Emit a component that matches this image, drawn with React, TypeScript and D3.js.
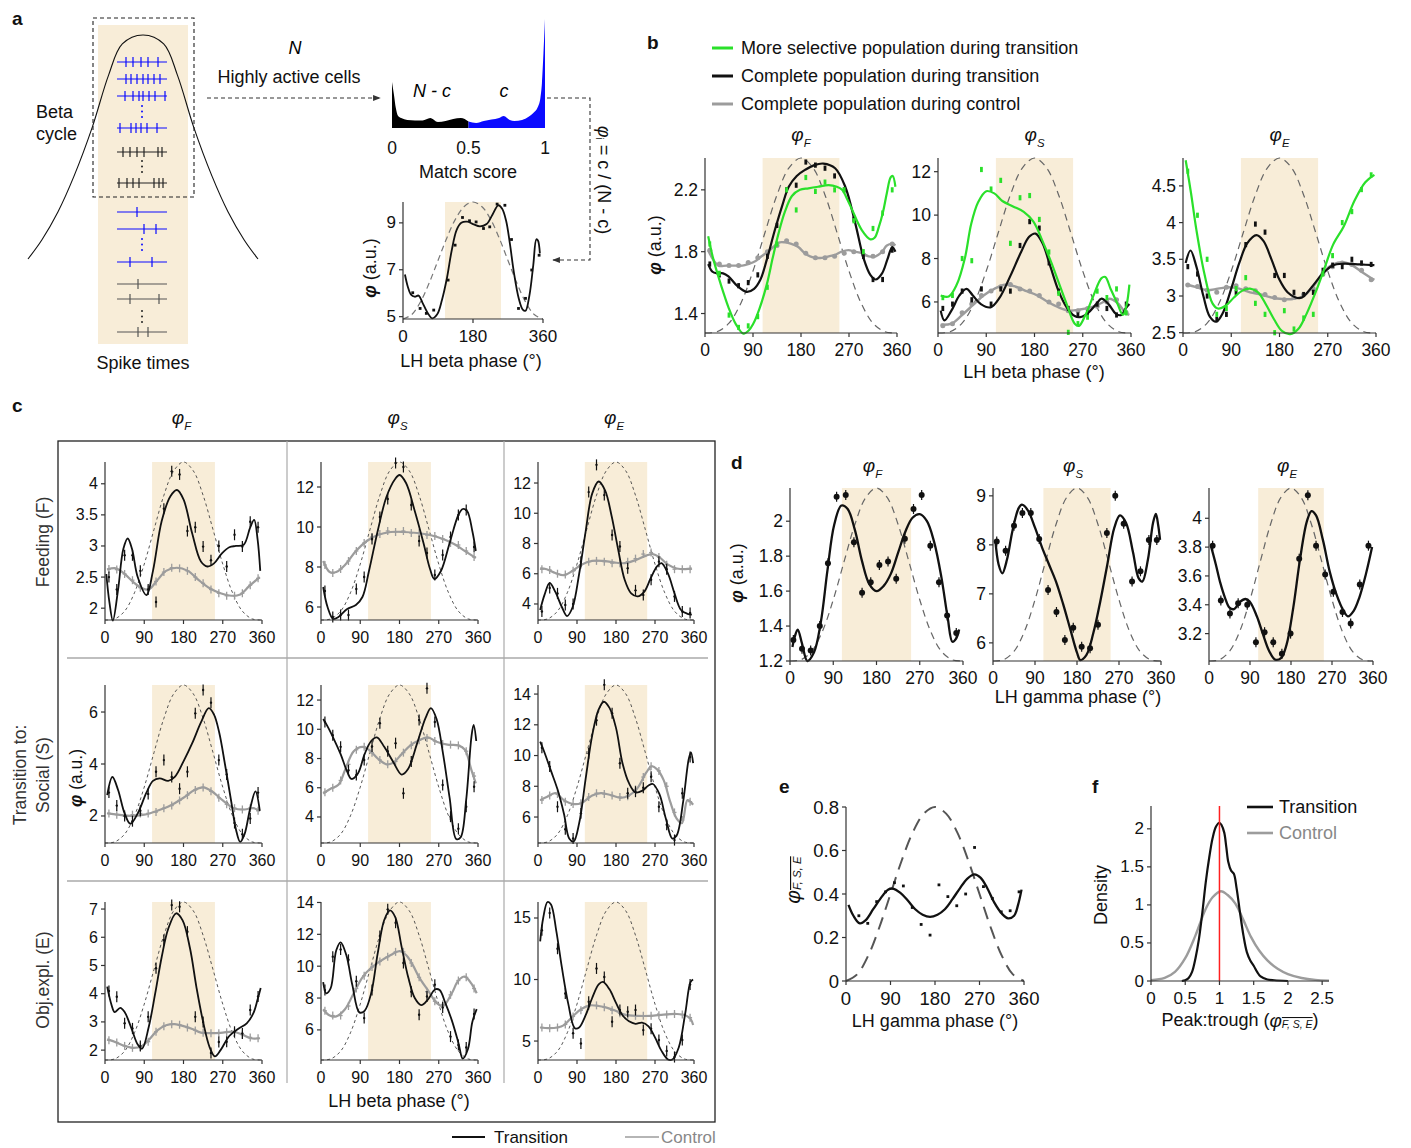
import React from "react";
import * as d3 from "d3";

type P = [number, number];
type Lin = d3.ScaleLinear<number, number>;

const FONT = "'Liberation Sans', Arial, Helvetica, sans-serif";
const BEIGE = "#f8edd8";
const GREEN = "#2ae02a";
const GRAY = "#9c9c9c";
const BLUE = "#0a0aff";
const AXIS = "#333";

// phase bins (deg) of the scatter points in b and c
const BINS = [9, 27, 45, 63, 81, 99, 117, 135, 153, 171, 189, 207, 225, 243, 261, 279, 297, 315, 333, 351];
const BEIGE_SPAN: P = [108, 252];
const PHASE_TICKS = [0, 90, 180, 270, 360];
// reference beta / gamma cycle (dashed): plain and sharpened versions
const REF_PHASE = [0, 22.5, 45, 67.5, 90, 112.5, 135, 157.5, 180, 202.5, 225, 247.5, 270, 292.5, 315, 337.5, 360];
const REF_WAVE = [0, 0.038, 0.146, 0.309, 0.5, 0.691, 0.854, 0.962, 1, 0.962, 0.854, 0.691, 0.5, 0.309, 0.146, 0.038, 0];
const REF_WAVE_NARROW = [0, 0.007, 0.056, 0.172, 0.354, 0.574, 0.789, 0.944, 1, 0.944, 0.789, 0.574, 0.354, 0.172, 0.056, 0.007, 0];

// ---- panel a ----
const BELL_T = [0, 0.06, 0.13, 0.2, 0.28, 0.35, 0.41, 0.5, 0.59, 0.65, 0.72, 0.8, 0.87, 0.94, 1];
const BELL_H = [0, 0.085, 0.21, 0.37, 0.59, 0.82, 0.96, 1, 0.96, 0.82, 0.59, 0.37, 0.21, 0.085, 0];
const SPIKES_IN_BLUE = [[9, 16, 24, 31, 41], [9, 14, 20, 26, 31, 37, 43], [8, 16, 22, 26, 32, 38, 48], [3, 14, 19, 24, 30, 40]];
const SPIKES_IN_BLACK = [[6, 13, 20, 27, 41, 45], [2, 10, 16, 22, 37, 42, 46]];
const SPIKES_OUT_BLUE = [[20], [27, 39], [13, 35]];
const SPIKES_OUT_BLACK = [[21], [13, 42], [21, 31]];
const MATCH_X = [0, 0.012, 0.025, 0.04, 0.06, 0.1, 0.15, 0.2, 0.25, 0.3, 0.35, 0.4, 0.45, 0.5, 0.55, 0.6, 0.65, 0.7, 0.73, 0.77, 0.8, 0.85, 0.9, 0.93, 0.95, 0.97, 0.98, 0.99, 1];
const MATCH_Y = [46, 34, 20, 12, 10, 8, 7.5, 7.5, 10, 6, 7, 9, 10, 6.5, 5, 7, 8.5, 10, 12, 8, 7, 8, 12, 16, 20, 30, 45, 75, 109];
const A_PHI: P[] = [[5, 6.8], [12, 6.3], [20, 5.95], [30, 5.85], [40, 5.9], [50, 5.6], [62, 5.2], [75, 4.93], [88, 5.1], [100, 5.7], [113, 6.65], [125, 7.8], [138, 8.7], [150, 9.0], [165, 9.05], [180, 8.95], [198, 8.85], [215, 8.95], [230, 9.35], [245, 9.75], [255, 9.6], [265, 9.1], [275, 8.1], [285, 6.9], [298, 5.75], [308, 5.3], [315, 5.25], [325, 5.9], [335, 7.2], [343, 8.3], [347, 8.25], [352, 7.7]];
const A_PHI_DOTS: P[] = [[25, 6.02], [44, 5.35], [60, 5.14], [79, 5.28], [116, 6.56], [134, 8.05], [153, 9.23], [171, 9.09], [188, 9.04], [207, 8.76], [223, 8.83], [242, 9.8], [262, 9.75], [279, 8.29], [297, 5.35], [315, 5.78], [331, 6.99], [350, 7.62]];

// ---- panel b ----
const B_F_SEL: P[] = [[6, 1.9], [15, 1.76], [25, 1.64], [35, 1.53], [44, 1.44], [58, 1.33], [72, 1.27], [82, 1.29], [90, 1.33], [102, 1.43], [116, 1.59], [127, 1.76], [138, 1.92], [150, 2.06], [163, 2.16], [178, 2.2], [194, 2.21], [212, 2.22], [232, 2.23], [247, 2.22], [257, 2.2], [268, 2.13], [276, 2.07], [294, 1.94], [310, 1.88], [318, 1.89], [326, 1.96], [334, 2.06], [341, 2.18], [348, 2.28], [352, 2.29], [357, 2.22]];
const B_F_ALL: P[] = [[6, 1.72], [14, 1.67], [22, 1.66], [34, 1.66], [44, 1.64], [60, 1.58], [78, 1.54], [92, 1.56], [104, 1.62], [116, 1.75], [131, 1.94], [145, 2.1], [157, 2.22], [172, 2.29], [188, 2.33], [205, 2.36], [222, 2.37], [244, 2.34], [263, 2.22], [282, 1.98], [298, 1.75], [310, 1.65], [320, 1.62], [332, 1.66], [342, 1.75], [351, 1.83], [357, 1.8]];
const B_F_CTRL: P[] = [[6, 1.81], [15, 1.75], [25, 1.71], [40, 1.71], [55, 1.71], [70, 1.71], [81, 1.72], [95, 1.74], [106, 1.77], [118, 1.8], [128, 1.83], [140, 1.86], [150, 1.86], [162, 1.85], [175, 1.83], [187, 1.79], [197, 1.77], [208, 1.76], [219, 1.76], [232, 1.77], [244, 1.78], [256, 1.8], [269, 1.81], [281, 1.8], [294, 1.79], [307, 1.77], [320, 1.77], [332, 1.8], [341, 1.84], [352, 1.85], [357, 1.84]];
const B_F_SEL_DOTS = [1.85, 1.66, 1.39, 1.31, 1.32, 1.38, 1.57, 1.85, 2.2, 2.07, 2.28, 2.19, 2.25, 2.2, 2.2, 2.0, 1.8, 1.95, 2.05, 2.2];
const B_F_ALL_DOTS = [1.72, 1.65, 1.61, 1.58, 1.6, 1.65, 1.77, 1.97, 2.2, 2.23, 2.38, 2.36, 2.34, 2.29, 2.2, 2.01, 1.77, 1.62, 1.62, 1.81];
const B_F_CTRL_DOTS = [1.81, 1.72, 1.71, 1.71, 1.73, 1.76, 1.8, 1.84, 1.87, 1.85, 1.79, 1.76, 1.76, 1.77, 1.79, 1.8, 1.78, 1.77, 1.8, 1.85];

const B_S_SEL: P[] = [[5, 6.3], [20, 6.25], [35, 6.8], [50, 8.0], [62, 9.6], [75, 10.6], [90, 11.1], [105, 11.0], [120, 10.65], [140, 10.4], [160, 10.15], [178, 9.7], [195, 8.8], [210, 7.9], [225, 6.9], [240, 5.9], [255, 5.0], [263, 4.9], [275, 5.4], [290, 6.3], [305, 7.1], [312, 7.15], [322, 6.6], [335, 5.9], [345, 5.4], [352, 5.9], [357, 6.8]];
const B_S_ALL: P[] = [[5, 5.6], [12, 5.15], [25, 5.6], [40, 6.3], [53, 6.6], [65, 6.3], [80, 5.9], [98, 5.75], [115, 6.2], [135, 7.2], [155, 8.3], [170, 9.0], [182, 9.15], [195, 8.7], [210, 7.6], [225, 6.5], [240, 5.75], [255, 5.35], [265, 5.3], [280, 5.5], [295, 5.9], [305, 6.15], [318, 5.9], [332, 5.45], [342, 5.4], [350, 5.7], [357, 5.9]];
const B_S_CTRL: P[] = [[5, 4.95], [25, 5.0], [45, 5.4], [65, 5.85], [85, 6.3], [105, 6.6], [125, 6.8], [145, 6.7], [165, 6.5], [185, 6.3], [205, 6.0], [225, 5.75], [245, 5.6], [265, 5.65], [285, 5.75], [305, 5.95], [320, 6.15], [335, 5.95], [350, 5.5], [357, 5.4]];
const B_S_SEL_DOTS = [6.2, 6.3, 8.0, 7.9, 12.1, 11.2, 11.6, 8.7, 10.8, 10.9, 9.8, 8.3, 6.4, 4.6, 5.0, 5.3, 6.5, 6.2, 6.6, 5.5];
const B_S_ALL_DOTS = [5.7, 5.9, 6.5, 6.1, 6.6, 5.9, 6.6, 6.5, 8.6, 9.7, 9.4, 7.8, 6.5, 5.7, 5.4, 5.5, 5.9, 5.7, 5.4, 5.9];
const B_S_CTRL_DOTS = [4.9, 5.0, 5.5, 5.9, 6.3, 6.5, 6.7, 6.8, 6.6, 6.5, 6.3, 6.0, 5.9, 5.6, 5.6, 5.7, 5.8, 6.0, 6.1, 5.5];

const B_E_SEL: P[] = [[5, 4.85], [15, 4.4], [25, 3.9], [40, 3.3], [55, 2.9], [65, 2.83], [80, 2.87], [95, 2.98], [110, 3.07], [125, 3.1], [140, 3.05], [155, 2.88], [170, 2.68], [185, 2.52], [200, 2.48], [215, 2.55], [230, 2.75], [250, 3.1], [265, 3.4], [280, 3.7], [300, 3.95], [320, 4.3], [340, 4.55], [357, 4.65]];
const B_E_ALL: P[] = [[5, 3.45], [14, 3.62], [25, 3.4], [38, 3.0], [50, 2.72], [62, 2.65], [75, 2.78], [90, 3.1], [105, 3.45], [120, 3.72], [137, 3.83], [150, 3.75], [165, 3.5], [180, 3.22], [195, 3.05], [210, 2.98], [222, 2.98], [240, 3.12], [260, 3.3], [280, 3.42], [300, 3.44], [330, 3.43], [357, 3.42]];
const B_E_CTRL: P[] = [[5, 3.16], [25, 3.12], [45, 3.08], [65, 3.1], [85, 3.12], [105, 3.1], [125, 3.05], [145, 3.02], [165, 2.98], [185, 2.96], [205, 2.96], [225, 3.0], [245, 3.15], [262, 3.33], [280, 3.43], [298, 3.46], [315, 3.42], [335, 3.32], [350, 3.25], [357, 3.22]];
const B_E_SEL_DOTS = [4.7, 4.1, 3.5, 2.75, 2.83, 3.1, 3.25, 2.9, 2.75, 2.5, 2.8, 2.55, 2.7, 2.75, 3.3, 3.55, 4.0, 4.15, 4.45, 4.65];
const B_E_ALL_DOTS = [3.4, 3.3, 3.0, 2.68, 2.75, 3.05, 3.7, 3.98, 3.87, 3.28, 3.28, 3.05, 3.02, 3.05, 3.35, 3.42, 3.4, 3.5, 3.45, 3.43];
const B_E_CTRL_DOTS = [3.15, 3.13, 3.08, 3.05, 3.12, 3.14, 3.1, 3.07, 3.02, 2.98, 2.95, 2.98, 3.02, 3.1, 3.3, 3.4, 3.45, 3.43, 3.35, 3.22];

// ---- panel c (row = transition to, column = phi) ----
const C_FEED_F: P[] = [[3, 2.55], [10, 2.1], [18, 1.8], [30, 2.3], [42, 2.95], [52, 3.12], [62, 2.95], [75, 2.5], [95, 2.21], [110, 2.6], [130, 3.4], [150, 3.8], [165, 3.9], [180, 3.75], [200, 3.2], [220, 2.75], [235, 2.67], [250, 2.72], [268, 2.88], [285, 2.98], [300, 3.0], [318, 3.02], [333, 3.3], [342, 3.42], [350, 3.1], [356, 2.6]];
const C_FEED_F_DOTS = [2.5, 2.3, 2.85, 2.85, 2.6, 2.3, 2.1, 3.6, 4.2, 4.15, 3.24, 3.3, 2.99, 2.77, 3.0, 2.67, 3.18, 2.99, 3.39, 3.3];
const C_FEED_F_CTRL: P[] = [[5, 2.62], [25, 2.64], [45, 2.55], [65, 2.42], [85, 2.32], [100, 2.3], [120, 2.45], [140, 2.6], [165, 2.65], [190, 2.6], [215, 2.45], [240, 2.32], [265, 2.24], [290, 2.2], [310, 2.22], [330, 2.35], [355, 2.5]];
const C_FEED_F_CTRL_DOTS = [2.63, 2.62, 2.55, 2.45, 2.33, 2.3, 2.43, 2.58, 2.65, 2.64, 2.6, 2.5, 2.4, 2.3, 2.24, 2.2, 2.2, 2.24, 2.37, 2.48];

const C_FEED_S: P[] = [[5, 7.0], [15, 6.0], [28, 5.4], [40, 5.5], [60, 5.9], [80, 6.1], [95, 6.5], [110, 7.8], [130, 9.8], [150, 11.5], [170, 12.4], [180, 12.6], [195, 12.2], [215, 10.8], [235, 9.2], [250, 7.9], [260, 7.4], [275, 7.8], [295, 9.2], [315, 10.6], [325, 10.9], [335, 10.8], [347, 9.8], [355, 8.8]];
const C_FEED_S_DOTS = [6.8, 5.5, 5.6, 5.6, 6.9, 7.5, 9.4, 10.5, 11.4, 13.2, 13.0, 11.1, 9.3, 8.7, 7.6, 8.6, 9.5, 10.6, 10.85, 9.0];
const C_FEED_S_CTRL: P[] = [[5, 8.3], [20, 7.75], [35, 7.75], [55, 8.1], [80, 8.8], [105, 9.3], [130, 9.6], [160, 9.75], [190, 9.75], [220, 9.7], [250, 9.6], [280, 9.4], [305, 9.15], [330, 8.8], [355, 8.45]];
const C_FEED_S_CTRL_DOTS = [8.1, 7.7, 7.9, 8.3, 8.8, 9.2, 9.5, 9.65, 9.8, 9.75, 9.8, 9.7, 9.7, 9.6, 9.55, 9.4, 9.2, 9.1, 8.8, 8.5];

const C_FEED_E: P[] = [[5, 3.6], [15, 4.6], [27, 5.4], [40, 4.8], [55, 3.8], [67, 3.2], [80, 3.8], [95, 6.0], [110, 8.8], [125, 11.3], [140, 12.1], [155, 11.5], [170, 9.8], [185, 7.6], [200, 5.6], [215, 4.7], [230, 4.5], [245, 4.8], [260, 5.7], [275, 6.5], [285, 6.7], [300, 6.0], [315, 4.7], [330, 3.6], [345, 3.35], [355, 3.3]];
const C_FEED_E_DOTS = [3.5, 5.06, 4.7, 3.94, 4.0, 6.8, 11.4, 13.2, 11.2, 8.56, 7.8, 6.37, 4.9, 4.6, 5.6, 6.8, 6.3, 4.5, 3.5, 3.4];
const C_FEED_E_CTRL: P[] = [[5, 6.35], [20, 6.3], [40, 6.05], [60, 5.9], [80, 6.2], [100, 6.6], [125, 6.85], [150, 6.85], [175, 6.75], [200, 6.7], [225, 6.9], [250, 7.2], [265, 7.3], [280, 7.1], [300, 6.6], [320, 6.35], [340, 6.3], [355, 6.35]];
const C_FEED_E_CTRL_DOTS = [6.3, 6.25, 6.0, 5.95, 6.2, 6.6, 6.8, 6.85, 6.8, 6.7, 6.7, 6.8, 7.0, 7.3, 7.4, 7.1, 6.6, 6.3, 6.3, 6.3];

const C_SOC_F: P[] = [[5, 2.8], [17, 3.5], [30, 3.0], [45, 2.1], [58, 1.7], [75, 2.1], [95, 2.9], [110, 3.35], [125, 3.45], [145, 3.35], [160, 3.5], [180, 4.1], [200, 4.8], [220, 5.6], [238, 6.15], [250, 5.9], [262, 5.2], [275, 4.0], [290, 2.5], [300, 1.5], [310, 1.0], [320, 1.3], [333, 2.3], [345, 2.95], [355, 2.2]];
const C_SOC_F_DOTS = [2.9, 2.4, 2.0, 1.8, 2.2, 2.85, 3.7, 4.15, 3.5, 3.05, 3.7, 5.95, 6.85, 6.36, 4.15, 3.6, 1.73, 1.3, 1.9, 2.9];
const C_SOC_F_CTRL: P[] = [[5, 2.1], [30, 2.05], [60, 2.0], [90, 2.05], [120, 2.2], [150, 2.4], [180, 2.7], [205, 3.0], [225, 3.1], [245, 2.95], [270, 2.6], [295, 2.3], [320, 2.25], [340, 2.3], [355, 2.2]];
const C_SOC_F_CTRL_DOTS = [2.1, 2.05, 2.0, 2.05, 2.1, 2.1, 2.15, 2.3, 2.4, 2.6, 2.8, 3.0, 3.1, 2.95, 2.7, 2.45, 2.3, 2.25, 2.3, 2.2];

const C_SOC_S: P[] = [[5, 10.7], [15, 10.2], [30, 9.3], [45, 8.3], [60, 7.1], [70, 6.6], [85, 7.0], [100, 8.3], [115, 9.2], [128, 9.45], [145, 8.8], [165, 7.8], [185, 6.9], [200, 7.3], [220, 9.0], [240, 10.8], [252, 11.45], [265, 10.7], [280, 8.3], [295, 5.3], [310, 2.5], [320, 2.6], [333, 5.2], [345, 9.5], [350, 10.3], [356, 9.2]];
const C_SOC_S_DOTS = [10.5, 9.6, 8.8, 7.2, 6.88, 7.9, 8.82, 10.42, 8.5, 9.05, 5.62, 7.8, 10.64, 12.8, 10.5, 6.19, 4.02, 3.2, 4.7, 6.07];
const C_SOC_S_CTRL: P[] = [[5, 5.6], [20, 5.9], [40, 6.2], [55, 7.2], [75, 8.5], [95, 8.8], [110, 8.6], [130, 8.0], [150, 7.6], [165, 7.7], [185, 8.3], [205, 8.9], [225, 9.25], [245, 9.45], [265, 9.15], [290, 8.95], [315, 8.9], [330, 8.6], [345, 7.2], [355, 6.3]];
const C_SOC_S_CTRL_DOTS = [5.7, 6.0, 6.5, 7.6, 8.6, 8.8, 8.4, 7.9, 7.6, 7.8, 8.4, 8.9, 9.25, 9.4, 9.2, 9.0, 8.95, 8.9, 8.5, 6.8];

const C_SOC_E: P[] = [[5, 10.9], [15, 10.2], [30, 9.0], [45, 7.8], [60, 6.2], [72, 4.6], [82, 4.4], [95, 5.6], [110, 8.5], [125, 11.3], [140, 13.0], [152, 13.5], [165, 13.1], [180, 11.8], [195, 9.5], [210, 8.2], [225, 7.6], [240, 7.7], [255, 8.05], [265, 8.15], [280, 7.5], [295, 5.9], [310, 4.6], [320, 4.8], [335, 7.0], [348, 9.8], [353, 10.2], [358, 9.5]];
const C_SOC_E_DOTS = [10.5, 9.28, 6.67, 5.2, 4.6, 6.24, 10.15, 12.3, 14.6, 12.76, 9.5, 7.55, 7.65, 7.9, 8.62, 6.67, 5.5, 4.5, 7.55, 9.9];
const C_SOC_E_CTRL: P[] = [[5, 7.1], [20, 7.3], [40, 7.55], [60, 7.1], [80, 6.85], [100, 6.9], [125, 7.4], [145, 7.55], [165, 7.45], [190, 7.25], [210, 7.4], [230, 7.9], [250, 8.9], [262, 9.3], [275, 9.1], [290, 8.4], [305, 7.0], [320, 5.9], [332, 5.6], [345, 7.1], [358, 6.8]];
const C_SOC_E_CTRL_DOTS = [7.1, 7.4, 7.5, 7.0, 6.85, 6.9, 7.3, 7.55, 7.5, 7.4, 7.3, 7.35, 7.8, 8.6, 9.3, 9.0, 8.0, 6.3, 5.8, 7.0];

const C_OBJ_F: P[] = [[5, 4.25], [15, 3.6], [22, 3.35], [35, 3.5], [45, 3.35], [60, 2.8], [75, 2.2], [85, 2.05], [100, 2.8], [115, 4.0], [130, 5.3], [145, 6.3], [163, 6.85], [178, 6.6], [195, 5.6], [210, 4.2], [225, 3.0], [240, 2.1], [252, 1.78], [265, 2.0], [285, 2.5], [305, 2.75], [325, 2.95], [340, 3.3], [350, 3.8], [357, 4.2]];
const C_OBJ_F_DOTS = [4.1, 3.89, 2.95, 2.77, 2.15, 3.18, 4.9, 5.9, 7.14, 7.08, 6.2, 3.18, 3.0, 1.9, 2.29, 2.3, 2.65, 2.59, 3.42, 3.9];
const C_OBJ_F_CTRL: P[] = [[5, 2.38], [25, 2.28], [45, 2.15], [65, 2.08], [85, 2.15], [100, 2.35], [120, 2.7], [140, 2.88], [160, 2.92], [180, 2.85], [200, 2.75], [220, 2.62], [245, 2.6], [270, 2.62], [295, 2.65], [315, 2.55], [335, 2.42], [355, 2.42]];
const C_OBJ_F_CTRL_DOTS = [2.35, 2.27, 2.15, 2.08, 2.12, 2.3, 2.65, 2.85, 2.92, 2.9, 2.8, 2.7, 2.62, 2.6, 2.6, 2.63, 2.65, 2.55, 2.45, 2.42];

const C_OBJ_S: P[] = [[5, 9.0], [12, 8.3], [22, 8.6], [35, 11.0], [45, 11.5], [58, 10.7], [72, 8.8], [88, 7.1], [100, 7.2], [115, 8.3], [130, 10.8], [145, 12.9], [158, 13.5], [170, 13.1], [185, 11.2], [200, 9.3], [215, 8.0], [230, 7.55], [245, 7.9], [262, 8.55], [272, 8.5], [285, 7.7], [300, 6.6], [315, 5.2], [325, 4.2], [337, 4.8], [347, 6.5], [357, 7.3]];
const C_OBJ_S_DOTS = [8.5, 10.6, 11.05, 10.4, 9.05, 6.74, 8.5, 11.9, 13.57, 12.73, 10.2, 8.4, 6.95, 8.1, 8.84, 7.4, 5.58, 5.05, 4.9, 7.0];
const C_OBJ_S_CTRL: P[] = [[5, 7.3], [20, 6.9], [35, 6.85], [55, 7.3], [75, 8.3], [95, 9.3], [115, 9.9], [135, 10.3], [160, 10.7], [180, 10.95], [195, 10.7], [210, 10.1], [225, 9.3], [245, 8.5], [265, 7.7], [280, 7.5], [300, 8.3], [315, 9.1], [330, 9.35], [345, 8.9], [357, 8.3]];
const C_OBJ_S_CTRL_DOTS = [7.2, 6.9, 6.9, 7.5, 8.6, 9.4, 9.95, 10.3, 10.6, 10.9, 10.9, 10.2, 9.3, 8.4, 7.8, 7.6, 8.2, 9.1, 9.3, 8.6];

const C_OBJ_E: P[] = [[5, 13.1], [12, 15.0], [22, 16.3], [30, 16.1], [42, 14.0], [55, 11.0], [70, 8.0], [85, 6.05], [95, 6.1], [110, 7.1], [125, 8.5], [140, 9.6], [150, 9.8], [165, 9.2], [180, 8.1], [195, 7.1], [210, 6.6], [225, 6.4], [240, 6.5], [255, 6.2], [270, 5.3], [285, 4.2], [300, 3.5], [310, 3.5], [325, 4.5], [340, 7.3], [352, 9.8], [358, 10.0]];
const C_OBJ_E_DOTS = [14.0, 15.4, 12.5, 8.87, 5.63, 4.8, 8.2, 10.9, 10.2, 6.57, 7.52, 7.38, 7.52, 5.89, 6.0, 5.08, 4.2, 3.7, 5.08, 9.6];
const C_OBJ_E_CTRL: P[] = [[5, 6.1], [25, 6.05], [45, 6.1], [60, 6.3], [80, 7.0], [100, 7.6], [120, 7.9], [140, 7.85], [160, 7.7], [180, 7.45], [200, 7.15], [230, 7.05], [260, 7.05], [290, 7.15], [320, 7.2], [340, 7.1], [352, 6.8], [358, 6.3]];
const C_OBJ_E_CTRL_DOTS = [6.1, 6.05, 6.1, 6.35, 7.0, 7.5, 7.85, 7.9, 7.75, 7.5, 7.25, 7.1, 7.05, 7.05, 7.05, 7.1, 7.15, 7.2, 7.15, 6.9];

// ---- panel d (gamma phase) ----
const D_F: P[] = [[5, 1.28], [10, 1.34], [16, 1.38], [25, 1.3], [36, 1.2], [50, 1.25], [64, 1.42], [78, 1.72], [92, 1.98], [107, 2.09], [120, 2.07], [135, 1.95], [150, 1.77], [165, 1.64], [180, 1.6], [195, 1.63], [210, 1.7], [225, 1.82], [240, 1.94], [255, 2.02], [270, 2.04], [285, 2.0], [300, 1.88], [315, 1.68], [328, 1.45], [338, 1.31], [346, 1.33], [352, 1.38]];
const D_F_DOTS: P[] = [[7, 1.32], [25, 1.27], [43, 1.26], [62, 1.4], [79, 1.76], [97, 2.14], [116, 2.15], [133, 1.88], [150, 1.59], [168, 1.65], [186, 1.75], [204, 1.77], [221, 1.67], [239, 1.9], [257, 2.07], [274, 2.15], [292, 1.86], [310, 1.65], [327, 1.46], [346, 1.36]];
const D_S: P[] = [[5, 8.1], [12, 7.6], [20, 7.42], [30, 7.7], [42, 8.3], [55, 8.75], [62, 8.82], [75, 8.7], [90, 8.35], [105, 7.95], [120, 7.6], [135, 7.25], [150, 6.8], [165, 6.3], [180, 5.8], [187, 5.65], [200, 5.75], [215, 6.2], [230, 6.85], [245, 7.6], [260, 8.35], [272, 8.6], [285, 8.45], [300, 7.85], [312, 7.32], [320, 7.25], [332, 7.7], [343, 8.45], [349, 8.63], [354, 8.4], [358, 8.1]];
const D_S_DOTS: P[] = [[8, 8.07], [27, 7.88], [45, 8.39], [63, 8.65], [81, 8.65], [99, 8.12], [118, 7.08], [136, 6.63], [154, 6.06], [172, 6.31], [190, 5.92], [208, 5.89], [225, 6.37], [244, 8.24], [262, 9.0], [280, 8.43], [298, 7.25], [316, 7.46], [334, 8.1], [351, 8.1]];
const D_E: P[] = [[5, 3.8], [15, 3.68], [25, 3.55], [35, 3.45], [45, 3.38], [55, 3.37], [68, 3.42], [80, 3.44], [90, 3.42], [105, 3.32], [118, 3.2], [132, 3.08], [145, 3.02], [158, 3.03], [170, 3.12], [185, 3.38], [200, 3.72], [215, 3.98], [225, 4.05], [235, 4.02], [250, 3.85], [265, 3.63], [280, 3.47], [295, 3.36], [305, 3.32], [318, 3.36], [330, 3.45], [345, 3.62], [358, 3.8]];
const D_E_DOTS: P[] = [[8, 3.81], [26, 3.43], [46, 3.34], [64, 3.41], [84, 3.4], [103, 3.14], [122, 3.21], [141, 3.14], [160, 3.06], [179, 3.2], [198, 3.72], [217, 4.16], [235, 3.81], [255, 3.61], [273, 3.49], [293, 3.35], [311, 3.27], [331, 3.54], [350, 3.81]];

// ---- panel e ----
const E_MEAN: P[] = [[5, 0.35], [15, 0.3], [28, 0.265], [40, 0.28], [55, 0.33], [70, 0.38], [85, 0.42], [95, 0.425], [110, 0.405], [125, 0.37], [140, 0.33], [155, 0.305], [170, 0.295], [185, 0.305], [200, 0.33], [215, 0.375], [230, 0.425], [245, 0.47], [260, 0.49], [272, 0.475], [285, 0.43], [300, 0.36], [315, 0.31], [328, 0.288], [340, 0.3], [348, 0.35], [355, 0.42]];
const E_MEAN_DOTS: P[] = [[26, 0.3], [44, 0.265], [62, 0.365], [80, 0.41], [98, 0.452], [116, 0.437], [134, 0.338], [152, 0.26], [170, 0.211], [188, 0.442], [206, 0.388], [224, 0.346], [242, 0.4], [260, 0.614], [278, 0.434], [296, 0.38], [314, 0.318], [332, 0.323], [350, 0.41]];

// ---- panel f ----
const F_TRANS: P[] = [[0.45, 0], [0.5, 0.01], [0.55, 0.04], [0.6, 0.12], [0.65, 0.3], [0.7, 0.55], [0.75, 0.9], [0.8, 1.3], [0.85, 1.62], [0.9, 1.88], [0.95, 2.03], [1.0, 2.08], [1.03, 2.05], [1.07, 1.95], [1.1, 1.76], [1.13, 1.56], [1.17, 1.45], [1.21, 1.41], [1.25, 1.22], [1.3, 0.9], [1.35, 0.6], [1.4, 0.38], [1.45, 0.27], [1.5, 0.2], [1.55, 0.12], [1.6, 0.06], [1.7, 0.02], [1.8, 0.01], [2.0, 0]];
const F_CTRL: P[] = [[0, 0.01], [0.2, 0.04], [0.35, 0.12], [0.5, 0.3], [0.65, 0.6], [0.8, 0.95], [0.9, 1.1], [1.02, 1.18], [1.12, 1.13], [1.23, 1.02], [1.35, 0.8], [1.46, 0.58], [1.58, 0.4], [1.7, 0.27], [1.85, 0.16], [2.0, 0.09], [2.2, 0.04], [2.4, 0.015], [2.6, 0.005]];

const smooth = d3.curveCatmullRom.alpha(0.5);
const binned = (vals: number[]): P[] => vals.map((v, i) => [BINS[i], v]);

type Mark = "bar" | "round" | "square" | "errDark" | "errLight" | "disc";
interface Series { line: P[]; dots: P[]; color: string; width: number; mark: Mark; }
interface RefStyle { color: string; width: number; dash: string; wave: number[]; }

function Dot({ cx, cy, mark, color }: { cx: number; cy: number; mark: Mark; color: string }) {
  switch (mark) {
    case "bar":
      return <rect x={cx - 1.4} y={cy - 2.6} width={2.8} height={5.2} fill={color} />;
    case "round":
      return <circle cx={cx} cy={cy} r={2.5} fill={color} />;
    case "square":
      return <rect x={cx - 1.4} y={cy - 1.4} width={2.8} height={2.8} fill={color} />;
    case "errDark":
      return (
        <g>
          <line x1={cx} x2={cx} y1={cy - 5.5} y2={cy + 5.5} stroke={color} strokeWidth={1.2} />
          <circle cx={cx} cy={cy} r={1.2} fill={color} />
        </g>
      );
    case "errLight":
      return (
        <g>
          <line x1={cx} x2={cx} y1={cy - 4} y2={cy + 4} stroke={color} strokeWidth={1.3} />
          <line x1={cx - 2} x2={cx + 2} y1={cy} y2={cy} stroke={color} strokeWidth={1.3} />
        </g>
      );
    default:
      return (
        <g>
          <line x1={cx} x2={cx} y1={cy - 5} y2={cy + 5} stroke={color} strokeWidth={1.2} />
          <circle cx={cx} cy={cy} r={3} fill={color} />
        </g>
      );
  }
}

function Axes({ x, y, xTicks, yTicks, size = 16 }: { x: Lin; y: Lin; xTicks: number[]; yTicks: number[]; size?: number }) {
  const [x0, x1] = x.range();
  const [yb, yt] = y.range();
  return (
    <g fontFamily={FONT} fontSize={size} fill="#111">
      <line x1={x0} x2={x0} y1={yt} y2={yb} stroke={AXIS} strokeWidth={1.2} />
      <line x1={x0} x2={x1} y1={yb} y2={yb} stroke={AXIS} strokeWidth={1.2} />
      {yTicks.map((t) => (
        <g key={"y" + t}>
          <line x1={x0 - 4} x2={x0} y1={y(t)} y2={y(t)} stroke={AXIS} strokeWidth={1.2} />
          <text x={x0 - 7} y={y(t)} textAnchor="end" dominantBaseline="central">{t}</text>
        </g>
      ))}
      {xTicks.map((t) => (
        <g key={"x" + t}>
          <line x1={x(t)} x2={x(t)} y1={yb} y2={yb + 4} stroke={AXIS} strokeWidth={1.2} />
          <text x={x(t)} y={yb + 17} textAnchor="middle" dominantBaseline="central">{t}</text>
        </g>
      ))}
    </g>
  );
}

interface PanelProps {
  x0: number; x1: number; top: number; bottom: number;
  domain: P; yTicks: number[]; xTicks: number[]; tickSize: number;
  series: Series[]; beige?: boolean; ref: RefStyle;
}

function PhasePanel(p: PanelProps) {
  const x = d3.scaleLinear().domain([0, 360]).range([p.x0, p.x1]);
  const y = d3.scaleLinear().domain(p.domain).range([p.bottom, p.top]);
  const refY = d3.scaleLinear().domain([0, 1]).range([p.bottom, p.top]);
  const path = d3.line<P>().x((d) => x(d[0])).y((d) => y(d[1])).curve(smooth);
  const refPath = d3.line<number>().x((_, i) => x(REF_PHASE[i])).y((d) => refY(d)).curve(smooth);
  return (
    <g>
      {p.beige !== false && (
        <rect x={x(BEIGE_SPAN[0])} y={p.top} width={x(BEIGE_SPAN[1]) - x(BEIGE_SPAN[0])} height={p.bottom - p.top} fill={BEIGE} />
      )}
      <path d={refPath(p.ref.wave) || ""} fill="none" stroke={p.ref.color} strokeWidth={p.ref.width} strokeDasharray={p.ref.dash} />
      {p.series.map((s, i) => (
        <g key={i}>
          {s.dots.map((d, j) => (
            <Dot key={j} cx={x(d[0])} cy={y(d[1])} mark={s.mark} color={s.color} />
          ))}
          <path d={path(s.line) || ""} fill="none" stroke={s.color} strokeWidth={s.width} strokeLinejoin="round" />
        </g>
      ))}
      <Axes x={x} y={y} xTicks={p.xTicks} yTicks={p.yTicks} size={p.tickSize} />
    </g>
  );
}

function Phi({ x, y, sub, size = 19, anchor = "middle" }: { x: number; y: number; sub: string; size?: number; anchor?: string }) {
  return (
    <text x={x} y={y} textAnchor={anchor} fontFamily={FONT} fontSize={size} fontStyle="italic" fill="#111">
      φ<tspan fontSize={size * 0.6} dy={size * 0.3}>{sub}</tspan>
    </text>
  );
}

function YLabelPhi({ x, y, size = 18 }: { x: number; y: number; size?: number }) {
  return (
    <text transform={`translate(${x},${y}) rotate(-90)`} textAnchor="middle" dominantBaseline="central" fontFamily={FONT} fontSize={size} fill="#111">
      <tspan fontStyle="italic" fontWeight="bold">φ</tspan> (a.u.)
    </text>
  );
}

function Label({ x, y, text, size = 18, anchor = "middle", color = "#111", bold = false }: { x: number; y: number; text: string; size?: number; anchor?: string; color?: string; bold?: boolean }) {
  return (
    <text x={x} y={y} textAnchor={anchor} dominantBaseline="central" fontFamily={FONT} fontSize={size} fill={color} fontWeight={bold ? "bold" : "normal"}>
      {text}
    </text>
  );
}

function PanelA() {
  const bx = d3.scaleLinear().domain([0, 1]).range([28, 258]);
  const by = d3.scaleLinear().domain([0, 1]).range([259, 35]);
  const bell = d3.line<number>().x((_, i) => bx(BELL_T[i])).y((d) => by(d)).curve(smooth);
  const tx = d3.scaleLinear().domain([0, 50]).range([117, 167]);
  const rowsInBlue = [62, 79, 96, 128];
  const rowsInBlack = [152, 183];
  const rowsOutBlue = [212, 229, 262];
  const rowsOutBlack = [284, 299, 332];
  const train = (spikes: number[], yy: number, color: string, key: string) => (
    <g key={key}>
      <line x1={117} x2={167} y1={yy} y2={yy} stroke={color} strokeWidth={1.2} />
      {spikes.map((s, i) => (
        <line key={i} x1={tx(s)} x2={tx(s)} y1={yy - 5} y2={yy + 5} stroke={color} strokeWidth={1.2} />
      ))}
    </g>
  );
  const ellipsis = (y0: number, color: string) => (
    <g>
      {[0, 5.5, 11].map((d) => (
        <circle key={d} cx={142} cy={y0 + d} r={1} fill={color} />
      ))}
    </g>
  );
  const hx = d3.scaleLinear().domain([0, 1]).range([392, 545]);
  const hy = d3.scaleLinear().domain([0, 110]).range([128, 18]);
  const hist: P[] = MATCH_X.map((m, i) => [m, MATCH_Y[i]]);
  const area = d3.area<P>().x((d) => hx(d[0])).y0(hy(0)).y1((d) => hy(d[1])).curve(d3.curveMonotoneX);
  return (
    <g>
      <Label x={12} y={18} text="a" size={19} anchor="start" bold />
      <rect x={98} y={25} width={90} height={319} fill={BEIGE} />
      <path d={bell(BELL_H) || ""} fill="none" stroke="#111" strokeWidth={1.1} />
      <rect x={93} y={18} width={101} height={179} fill="none" stroke="#222" strokeWidth={1.1} strokeDasharray="4,3" />
      {SPIKES_IN_BLUE.map((s, i) => train(s, rowsInBlue[i], BLUE, "ib" + i))}
      {SPIKES_IN_BLACK.map((s, i) => train(s, rowsInBlack[i], "#222", "ik" + i))}
      {SPIKES_OUT_BLUE.map((s, i) => train(s, rowsOutBlue[i], BLUE, "ob" + i))}
      {SPIKES_OUT_BLACK.map((s, i) => train(s, rowsOutBlack[i], "#555", "ok" + i))}
      {ellipsis(106, BLUE)}
      {ellipsis(161, "#222")}
      {ellipsis(239, BLUE)}
      {ellipsis(311, "#222")}
      <Label x={36} y={112} text="Beta" anchor="start" />
      <Label x={36} y={134} text="cycle" anchor="start" />
      <Label x={143} y={363} text="Spike times" />
      <text x={295} y={48} textAnchor="middle" dominantBaseline="central" fontFamily={FONT} fontSize={18} fontStyle="italic">N</text>
      <Label x={289} y={77} text="Highly active cells" />
      <line x1={207} x2={380} y1={98} y2={98} stroke="#333" strokeWidth={1.1} strokeDasharray="4,3" markerEnd="url(#arr)" />
      <path d={area(hist.filter((d) => d[0] <= 0.5)) || ""} fill="#000" />
      <path d={area(hist.filter((d) => d[0] >= 0.5)) || ""} fill={BLUE} />
      <text x={432} y={91} textAnchor="middle" dominantBaseline="central" fontFamily={FONT} fontSize={18} fontStyle="italic">N - c</text>
      <text x={504} y={91} textAnchor="middle" dominantBaseline="central" fontFamily={FONT} fontSize={18} fontStyle="italic">c</text>
      {[0, 0.5, 1].map((t) => (
        <Label key={t} x={hx(t)} y={148} text={String(t)} size={17.5} />
      ))}
      <Label x={468} y={172} text="Match score" />
      <path d="M547,98 H590 V260 H553" fill="none" stroke="#333" strokeWidth={1.1} strokeDasharray="4,3" markerEnd="url(#arr)" />
      <text transform="translate(604,180) rotate(90)" textAnchor="middle" dominantBaseline="central" fontFamily={FONT} fontSize={18} fill="#111">
        <tspan fontStyle="italic">φ</tspan><tspan fontSize={10} dy={4}>i</tspan><tspan dy={-4}> = c / (N - c)</tspan>
      </text>
      <PhasePanel
        x0={403} x1={543} top={202} bottom={319} domain={[4.9, 9.89]} yTicks={[5, 7, 9]} xTicks={[0, 180, 360]} tickSize={17}
        ref={{ color: "#777", width: 1.2, dash: "6,4", wave: REF_WAVE }}
        series={[{ line: A_PHI, dots: A_PHI_DOTS, color: "#111", width: 1.8, mark: "square" }]}
      />
      <YLabelPhi x={370} y={268} />
      <Label x={471} y={361} text="LH beta phase (°)" />
    </g>
  );
}

function PanelB() {
  const legend = [
    { color: GREEN, text: "More selective population during transition" },
    { color: "#111", text: "Complete population during transition" },
    { color: GRAY, text: "Complete population during control" },
  ];
  const ref = { color: "#666", width: 1.2, dash: "7,5", wave: REF_WAVE_NARROW };
  const cols = [
    { x0: 705, x1: 897, domain: [1.274, 2.406] as P, ticks: [1.4, 1.8, 2.2], sub: "F", sel: B_F_SEL, all: B_F_ALL, ctrl: B_F_CTRL, sd: B_F_SEL_DOTS, ad: B_F_ALL_DOTS, cd: B_F_CTRL_DOTS },
    { x0: 938, x1: 1131, domain: [4.57, 12.63] as P, ticks: [6, 8, 10, 12], sub: "S", sel: B_S_SEL, all: B_S_ALL, ctrl: B_S_CTRL, sd: B_S_SEL_DOTS, ad: B_S_ALL_DOTS, cd: B_S_CTRL_DOTS },
    { x0: 1183, x1: 1376, domain: [2.496, 4.88] as P, ticks: [2.5, 3, 3.5, 4, 4.5], sub: "E", sel: B_E_SEL, all: B_E_ALL, ctrl: B_E_CTRL, sd: B_E_SEL_DOTS, ad: B_E_ALL_DOTS, cd: B_E_CTRL_DOTS },
  ];
  return (
    <g>
      <Label x={647} y={42} text="b" size={19} anchor="start" bold />
      {legend.map((l, i) => (
        <g key={i}>
          <line x1={712} x2={733} y1={48 + i * 28} y2={48 + i * 28} stroke={l.color} strokeWidth={3} />
          <Label x={741} y={48 + i * 28} text={l.text} anchor="start" />
        </g>
      ))}
      {cols.map((c) => (
        <g key={c.sub}>
          <Phi x={(c.x0 + c.x1) / 2} y={141} sub={c.sub} />
          <PhasePanel
            x0={c.x0} x1={c.x1} top={158} bottom={333} domain={c.domain} yTicks={c.ticks} xTicks={PHASE_TICKS} tickSize={17.5} ref={ref}
            series={[
              { line: c.ctrl, dots: binned(c.cd), color: GRAY, width: 2.4, mark: "round" },
              { line: c.all, dots: binned(c.ad), color: "#111", width: 2.2, mark: "bar" },
              { line: c.sel, dots: binned(c.sd), color: GREEN, width: 2.2, mark: "bar" },
            ]}
          />
        </g>
      ))}
      <YLabelPhi x={655} y={245} />
      <Label x={1034} y={372} text="LH beta phase (°)" />
    </g>
  );
}

function PanelC() {
  const colX: P[] = [[105, 262], [321, 478], [538, 694]];
  const rowY: P[] = [[462, 620], [685, 843], [902, 1060]];
  const ref = { color: "#444", width: 0.9, dash: "3,3", wave: REF_WAVE_NARROW };
  const panels = [
    { r: 0, c: 0, domain: [1.81, 4.35] as P, ticks: [2, 2.5, 3, 3.5, 4], t: C_FEED_F, td: C_FEED_F_DOTS, k: C_FEED_F_CTRL, kd: C_FEED_F_CTRL_DOTS },
    { r: 0, c: 1, domain: [5.35, 13.25] as P, ticks: [6, 8, 10, 12], t: C_FEED_S, td: C_FEED_S_DOTS, k: C_FEED_S_CTRL, kd: C_FEED_S_CTRL_DOTS },
    { r: 0, c: 2, domain: [2.94, 13.39] as P, ticks: [4, 6, 8, 10, 12], t: C_FEED_E, td: C_FEED_E_DOTS, k: C_FEED_E_CTRL, kd: C_FEED_E_CTRL_DOTS },
    { r: 1, c: 0, domain: [0.96, 7.04] as P, ticks: [2, 4, 6], t: C_SOC_F, td: C_SOC_F_DOTS, k: C_SOC_F_CTRL, kd: C_SOC_F_CTRL_DOTS },
    { r: 1, c: 1, domain: [2.22, 13.03] as P, ticks: [4, 6, 8, 10, 12], t: C_SOC_S, td: C_SOC_S_DOTS, k: C_SOC_S_CTRL, kd: C_SOC_S_CTRL_DOTS },
    { r: 1, c: 2, domain: [4.31, 14.59] as P, ticks: [6, 8, 10, 12, 14], t: C_SOC_E, td: C_SOC_E_DOTS, k: C_SOC_E_CTRL, kd: C_SOC_E_CTRL_DOTS },
    { r: 2, c: 0, domain: [1.65, 7.25] as P, ticks: [2, 3, 4, 5, 6, 7], t: C_OBJ_F, td: C_OBJ_F_DOTS, k: C_OBJ_F_CTRL, kd: C_OBJ_F_CTRL_DOTS },
    { r: 2, c: 1, domain: [4.11, 14.03] as P, ticks: [6, 8, 10, 12, 14], t: C_OBJ_S, td: C_OBJ_S_DOTS, k: C_OBJ_S_CTRL, kd: C_OBJ_S_CTRL_DOTS },
    { r: 2, c: 2, domain: [3.46, 16.3] as P, ticks: [5, 10, 15], t: C_OBJ_E, td: C_OBJ_E_DOTS, k: C_OBJ_E_CTRL, kd: C_OBJ_E_CTRL_DOTS },
  ];
  const rot = (x: number, y: number, text: string, color = "#333") => (
    <text transform={`translate(${x},${y}) rotate(-90)`} textAnchor="middle" dominantBaseline="central" fontFamily={FONT} fontSize={17.5} fill={color}>
      {text}
    </text>
  );
  return (
    <g>
      <Label x={12} y={405} text="c" size={19} anchor="start" bold />
      {["F", "S", "E"].map((s, i) => (
        <Phi key={s} x={(colX[i][0] + colX[i][1]) / 2 - 2} y={424} sub={s} />
      ))}
      <rect x={58} y={441} width={657} height={681} fill="none" stroke="#222" strokeWidth={1.3} />
      <line x1={67} x2={708} y1={658} y2={658} stroke="#aaa" strokeWidth={1.5} />
      <line x1={67} x2={708} y1={881} y2={881} stroke="#aaa" strokeWidth={1.5} />
      <line x1={287} x2={287} y1={441} y2={1083} stroke="#aaa" strokeWidth={1.2} />
      <line x1={504} x2={504} y1={441} y2={1083} stroke="#aaa" strokeWidth={1.2} />
      {panels.map((p, i) => (
        <PhasePanel
          key={i} x0={colX[p.c][0]} x1={colX[p.c][1]} top={rowY[p.r][0]} bottom={rowY[p.r][1]}
          domain={p.domain} yTicks={p.ticks} xTicks={PHASE_TICKS} tickSize={16} ref={ref}
          series={[
            { line: p.k, dots: binned(p.kd), color: GRAY, width: 2.2, mark: "errLight" },
            { line: p.t, dots: binned(p.td), color: "#111", width: 1.8, mark: "errDark" },
          ]}
        />
      ))}
      {rot(43, 542, "Feeding (F)")}
      {rot(20, 775, "Transition to:")}
      {rot(43, 775, "Social (S)")}
      {rot(43, 980, "Obj.expl. (E)")}
      <YLabelPhi x={76} y={778} size={17.5} />
      <Label x={399} y={1101} text="LH beta phase (°)" />
      <line x1={452} x2={485} y1={1137} y2={1137} stroke="#111" strokeWidth={2.2} />
      <Label x={494} y={1137} text="Transition" anchor="start" size={17} />
      <line x1={625} x2={659} y1={1137} y2={1137} stroke={GRAY} strokeWidth={1.4} />
      <Label x={661} y={1137} text="Control" anchor="start" size={17} color="#888" />
    </g>
  );
}

function PanelD() {
  const ref = { color: "#666", width: 1.2, dash: "7,5", wave: REF_WAVE_NARROW };
  const cols = [
    { x0: 790, x1: 963, domain: [1.2, 2.19] as P, ticks: [1.2, 1.4, 1.6, 1.8, 2], sub: "F", line: D_F, dots: D_F_DOTS },
    { x0: 993, x1: 1161, domain: [5.63, 9.16] as P, ticks: [6, 7, 8, 9], sub: "S", line: D_S, dots: D_S_DOTS },
    { x0: 1209, x1: 1373, domain: [3.01, 4.21] as P, ticks: [3.2, 3.4, 3.6, 3.8, 4], sub: "E", line: D_E, dots: D_E_DOTS },
  ];
  return (
    <g>
      <Label x={731} y={462} text="d" size={19} anchor="start" bold />
      {cols.map((c) => (
        <g key={c.sub}>
          <Phi x={(c.x0 + c.x1) / 2 - 4} y={472} sub={c.sub} />
          <PhasePanel
            x0={c.x0} x1={c.x1} top={488} bottom={661} domain={c.domain} yTicks={c.ticks} xTicks={PHASE_TICKS} tickSize={17.5} ref={ref}
            series={[{ line: c.line, dots: c.dots, color: "#111", width: 2.3, mark: "disc" }]}
          />
        </g>
      ))}
      <YLabelPhi x={737} y={573} />
      <Label x={1078} y={697} text="LH gamma phase (°)" />
    </g>
  );
}

function PanelE() {
  return (
    <g>
      <Label x={779} y={786} text="e" size={19} anchor="start" bold />
      <PhasePanel
        x0={846} x1={1024} top={807} bottom={981} domain={[0, 0.8]} yTicks={[0, 0.2, 0.4, 0.6, 0.8]} xTicks={PHASE_TICKS} tickSize={18.5}
        beige={false} ref={{ color: "#555", width: 2, dash: "13,8", wave: REF_WAVE }}
        series={[{ line: E_MEAN, dots: E_MEAN_DOTS, color: "#111", width: 2.3, mark: "square" }]}
      />
      <text transform="translate(792,880) rotate(-90)" textAnchor="middle" dominantBaseline="central" fontFamily={FONT} fontSize={21} fontStyle="italic" fill="#111">
        φ<tspan fontSize={11.5} dy={5} textDecoration="overline">F, S, E</tspan>
      </text>
      <Label x={935} y={1021} text="LH gamma phase (°)" />
    </g>
  );
}

function PanelF() {
  const x = d3.scaleLinear().domain([0, 2.6]).range([1151, 1329]);
  const y = d3.scaleLinear().domain([0, 2.3]).range([981, 806]);
  const line = d3.line<P>().x((d) => x(d[0])).y((d) => y(d[1])).curve(smooth);
  return (
    <g>
      <Label x={1092} y={786} text="f" size={19} anchor="start" bold />
      <path d={line(F_CTRL) || ""} fill="none" stroke={GRAY} strokeWidth={2.4} />
      <path d={line(F_TRANS) || ""} fill="none" stroke="#111" strokeWidth={2.2} />
      <line x1={x(1)} x2={x(1)} y1={y(0)} y2={y(2.3)} stroke="#ff2020" strokeWidth={1.5} />
      <Axes x={x} y={y} xTicks={[0, 0.5, 1, 1.5, 2, 2.5]} yTicks={[0, 0.5, 1, 1.5, 2]} size={17} />
      <text transform="translate(1101,895) rotate(-90)" textAnchor="middle" dominantBaseline="central" fontFamily={FONT} fontSize={18} fill="#111">Density</text>
      <line x1={1247} x2={1273} y1={807} y2={807} stroke="#111" strokeWidth={2.6} />
      <Label x={1279} y={807} text="Transition" anchor="start" />
      <line x1={1247} x2={1273} y1={833} y2={833} stroke={GRAY} strokeWidth={2.6} />
      <Label x={1279} y={833} text="Control" anchor="start" color="#888" />
      <text x={1240} y={1020} textAnchor="middle" dominantBaseline="central" fontFamily={FONT} fontSize={18} fill="#111">
        Peak:trough (<tspan fontStyle="italic" fontSize={19}>φ</tspan><tspan fontStyle="italic" fontSize={10.5} dy={4} textDecoration="overline">F, S, E</tspan><tspan dy={-4}>)</tspan>
      </text>
    </g>
  );
}

export default function App() {
  return (
    <svg width={1411} height={1148} viewBox="0 0 1411 1148" style={{ position: "absolute", left: 0, top: 0, background: "#fff" }}>
      <defs>
        <marker id="arr" viewBox="0 0 10 10" refX={9} refY={5} markerWidth={7} markerHeight={7} orient="auto">
          <path d="M0,1 L10,5 L0,9 Z" fill="#333" />
        </marker>
      </defs>
      <PanelA />
      <PanelB />
      <PanelC />
      <PanelD />
      <PanelE />
      <PanelF />
    </svg>
  );
}
